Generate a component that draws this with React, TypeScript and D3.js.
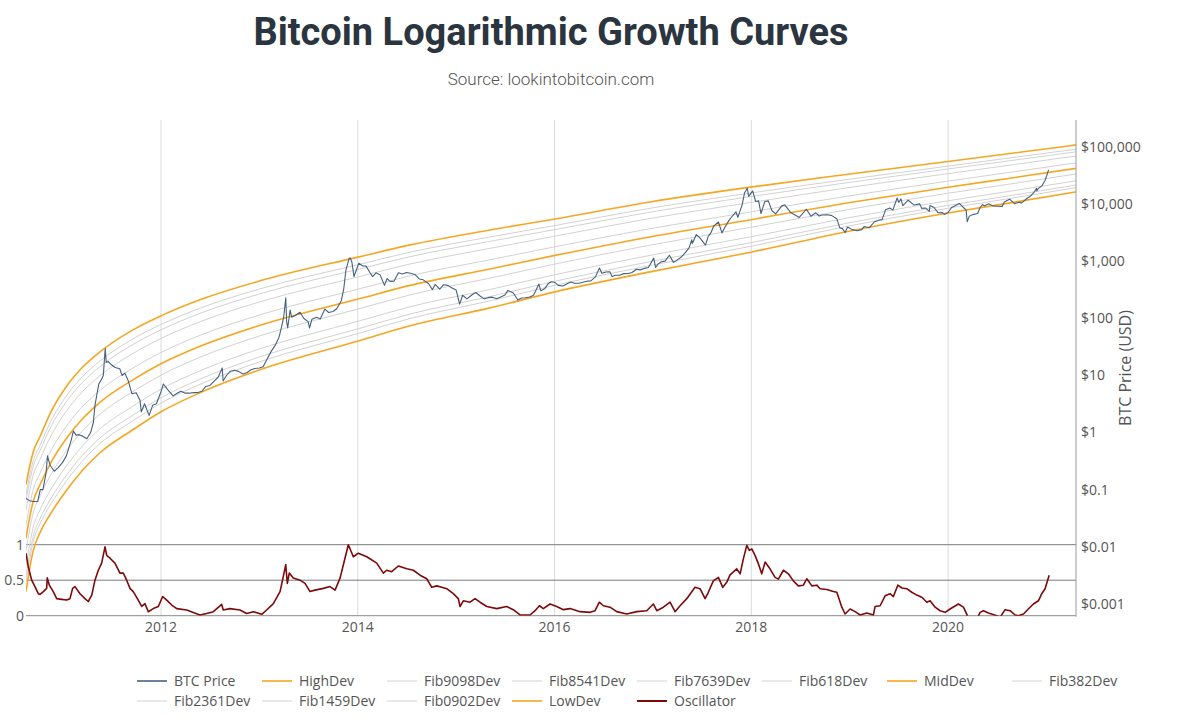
import React from "react";
import * as d3 from "d3";

const W = 1200;
const H = 715;

// ---------- tick data ----------
const yearTicks = [2012, 2014, 2016, 2018, 2020];
const priceTicks = [0.001, 0.01, 0.1, 1, 10, 100, 1000, 10000, 100000];
const priceTickLabels = ["$0.001", "$0.01", "$0.1", "$1", "$10", "$100", "$1,000", "$10,000", "$100,000"];
const oscTicks = [0, 0.5, 1];
const oscTickLabels = ["0", "0.5", "1"];

// ---------- growth curves (decimal year -> USD) ----------
const curveYears = [2010.628, 2010.669, 2010.699, 2010.77, 2010.872, 2011.044, 2011.207, 2011.38, 2011.715, 2012.0, 2012.396, 2013.006, 2014.013, 2014.531, 2015.344, 2016.005, 2016.971, 2018.008, 2019.004, 2020.0, 2020.63, 2021.301];
const highDev = [0.122, 0.273, 0.443, 0.843, 2.13, 6.6, 14.2, 26.0, 63, 111, 212, 456, 1200, 1945, 3560, 5550, 11000, 20200, 34000, 56400, 77900, 110000];
const lowDev = [0.00163, 0.00447, 0.00817, 0.0176, 0.0363, 0.0995, 0.223, 0.443, 1.12, 2.31, 4.98, 12.6, 40.5, 74.2, 153, 292, 655, 1465, 3420, 7070, 10600, 16500];
// Fibonacci fractions between LowDev (0) and HighDev (1), as named in the legend
const fibNames = ["Fib9098Dev", "Fib8541Dev", "Fib7639Dev", "Fib618Dev", "MidDev", "Fib382Dev", "Fib2361Dev", "Fib1459Dev", "Fib0902Dev"];
const fibLevels = [0.9098, 0.8541, 0.7639, 0.618, 0.5, 0.382, 0.2361, 0.1459, 0.0902];

// ---------- BTC price ----------
const btcPrice: [string, number][] = [
  ["2010-08-18", 0.07], ["2010-09-01", 0.064], ["2010-09-15", 0.062], ["2010-10-01", 0.062], ["2010-10-10", 0.1],
  ["2010-10-20", 0.1], ["2010-11-01", 0.2], ["2010-11-06", 0.39], ["2010-11-15", 0.27], ["2010-12-01", 0.21],
  ["2010-12-15", 0.24], ["2011-01-01", 0.3], ["2011-01-15", 0.39], ["2011-02-01", 0.71], ["2011-02-10", 1.06],
  ["2011-02-20", 0.9], ["2011-03-01", 0.92], ["2011-03-15", 0.87], ["2011-04-01", 0.78], ["2011-04-15", 1.0],
  ["2011-04-25", 1.5], ["2011-05-01", 3.0], ["2011-05-15", 7.0], ["2011-05-25", 8.5], ["2011-06-01", 10],
  ["2011-06-08", 29.6], ["2011-06-12", 17], ["2011-06-20", 17.5], ["2011-07-01", 15.4], ["2011-07-15", 13.8],
  ["2011-08-01", 13.1], ["2011-08-10", 10], ["2011-08-20", 11], ["2011-09-01", 8.2], ["2011-09-15", 4.8],
  ["2011-10-01", 5.0], ["2011-10-15", 3.7], ["2011-10-20", 2.3], ["2011-11-01", 3.2], ["2011-11-18", 2.0],
  ["2011-12-01", 3.0], ["2011-12-15", 3.2], ["2012-01-01", 5.2], ["2012-01-10", 7.1], ["2012-01-25", 5.7],
  ["2012-02-15", 4.4], ["2012-03-01", 4.9], ["2012-03-15", 5.3], ["2012-04-01", 4.9], ["2012-04-15", 4.9],
  ["2012-05-01", 5.0], ["2012-05-15", 5.0], ["2012-06-01", 5.3], ["2012-06-15", 6.4], ["2012-07-01", 6.7],
  ["2012-07-15", 7.8], ["2012-08-01", 9.4], ["2012-08-16", 13.5], ["2012-08-19", 8.0], ["2012-09-01", 10.1],
  ["2012-09-15", 11.9], ["2012-10-01", 12.4], ["2012-10-15", 11.8], ["2012-11-01", 10.6], ["2012-11-15", 11.2],
  ["2012-12-01", 12.6], ["2012-12-15", 13.3], ["2013-01-01", 13.5], ["2013-01-15", 14.2], ["2013-02-01", 20.4],
  ["2013-02-15", 27], ["2013-03-01", 34], ["2013-03-15", 47], ["2013-03-25", 73], ["2013-04-01", 104],
  ["2013-04-09", 230], ["2013-04-12", 90], ["2013-04-16", 68], ["2013-04-25", 140], ["2013-05-01", 105],
  ["2013-05-15", 114], ["2013-06-01", 128], ["2013-06-15", 100], ["2013-07-01", 88], ["2013-07-06", 68],
  ["2013-07-15", 97], ["2013-08-01", 105], ["2013-08-15", 98], ["2013-09-01", 146], ["2013-09-15", 127],
  ["2013-10-01", 132], ["2013-10-15", 148], ["2013-11-01", 205], ["2013-11-10", 330], ["2013-11-18", 700],
  ["2013-11-30", 1130], ["2013-12-04", 1150], ["2013-12-10", 980], ["2013-12-18", 540], ["2013-12-25", 670],
  ["2014-01-05", 930], ["2014-01-20", 830], ["2014-02-01", 825], ["2014-02-15", 640], ["2014-02-25", 540],
  ["2014-03-10", 630], ["2014-03-25", 580], ["2014-04-10", 380], ["2014-04-20", 500], ["2014-05-01", 445],
  ["2014-05-15", 450], ["2014-06-01", 630], ["2014-06-15", 600], ["2014-07-01", 640], ["2014-07-15", 620],
  ["2014-08-01", 590], ["2014-08-18", 490], ["2014-09-01", 475], ["2014-09-20", 410], ["2014-10-05", 320],
  ["2014-10-15", 395], ["2014-11-01", 325], ["2014-11-15", 390], ["2014-12-01", 380], ["2014-12-15", 345],
  ["2015-01-01", 315], ["2015-01-14", 178], ["2015-01-25", 255], ["2015-02-10", 220], ["2015-03-01", 260],
  ["2015-03-15", 285], ["2015-04-01", 245], ["2015-04-15", 220], ["2015-05-01", 232], ["2015-05-15", 236],
  ["2015-06-01", 222], ["2015-06-15", 237], ["2015-07-01", 258], ["2015-07-12", 310], ["2015-08-01", 280],
  ["2015-08-18", 210], ["2015-09-01", 228], ["2015-09-15", 230], ["2015-10-01", 238], ["2015-10-15", 255],
  ["2015-11-04", 400], ["2015-11-11", 305], ["2015-11-25", 330], ["2015-12-10", 415], ["2015-12-20", 440],
  ["2016-01-01", 432], ["2016-01-15", 380], ["2016-02-01", 370], ["2016-02-15", 400], ["2016-03-01", 435],
  ["2016-03-15", 415], ["2016-04-01", 415], ["2016-04-15", 430], ["2016-05-01", 450], ["2016-05-15", 455],
  ["2016-06-01", 535], ["2016-06-16", 765], ["2016-06-25", 620], ["2016-07-10", 650], ["2016-07-25", 655],
  ["2016-08-02", 545], ["2016-08-15", 570], ["2016-09-01", 575], ["2016-09-15", 610], ["2016-10-01", 615],
  ["2016-10-15", 640], ["2016-11-01", 730], ["2016-11-15", 710], ["2016-12-01", 755], ["2016-12-15", 780],
  ["2017-01-04", 1140], ["2017-01-11", 780], ["2017-01-20", 895], ["2017-02-01", 985], ["2017-02-15", 1010],
  ["2017-03-03", 1280], ["2017-03-18", 960], ["2017-03-30", 1040], ["2017-04-15", 1180], ["2017-05-01", 1420],
  ["2017-05-15", 1730], ["2017-05-25", 2400], ["2017-05-27", 2050], ["2017-06-11", 2950], ["2017-06-25", 2550],
  ["2017-07-15", 1930], ["2017-07-25", 2750], ["2017-08-05", 3230], ["2017-08-15", 4200], ["2017-09-01", 4900],
  ["2017-09-14", 3150], ["2017-09-25", 3950], ["2017-10-12", 5400], ["2017-10-20", 6000], ["2017-11-05", 7400],
  ["2017-11-12", 5900], ["2017-11-28", 9800], ["2017-12-07", 16000], ["2017-12-17", 19200], ["2017-12-22", 13800],
  ["2018-01-06", 17200], ["2018-01-17", 11200], ["2018-01-28", 11500], ["2018-02-06", 6900], ["2018-02-20", 11200],
  ["2018-03-05", 11500], ["2018-03-18", 7800], ["2018-04-01", 6800], ["2018-04-24", 9400], ["2018-05-05", 9800],
  ["2018-05-28", 7100], ["2018-06-12", 6500], ["2018-06-28", 5900], ["2018-07-24", 8200], ["2018-08-10", 6200],
  ["2018-08-28", 7100], ["2018-09-10", 6250], ["2018-09-20", 6500], ["2018-10-10", 6550], ["2018-10-25", 6400],
  ["2018-11-14", 5600], ["2018-11-25", 3900], ["2018-12-05", 3750], ["2018-12-15", 3200], ["2018-12-24", 4000],
  ["2019-01-10", 3600], ["2019-01-28", 3450], ["2019-02-15", 3600], ["2019-02-24", 4100], ["2019-03-15", 3900],
  ["2019-04-02", 4900], ["2019-04-20", 5300], ["2019-05-01", 5400], ["2019-05-14", 8000], ["2019-05-30", 8600],
  ["2019-06-10", 7900], ["2019-06-26", 12900], ["2019-07-02", 10800], ["2019-07-10", 12500], ["2019-07-17", 9500],
  ["2019-08-06", 11800], ["2019-08-28", 9700], ["2019-09-18", 10200], ["2019-09-25", 8500], ["2019-10-10", 8600],
  ["2019-10-23", 7500], ["2019-10-26", 9500], ["2019-11-10", 8800], ["2019-11-25", 7100], ["2019-12-10", 7200],
  ["2019-12-18", 6650], ["2020-01-01", 7200], ["2020-01-14", 8800], ["2020-02-12", 10350], ["2020-02-28", 8700],
  ["2020-03-08", 8000], ["2020-03-12", 4950], ["2020-03-20", 6200], ["2020-04-01", 6600], ["2020-04-20", 6900],
  ["2020-04-29", 8800], ["2020-05-08", 9900], ["2020-05-15", 9400], ["2020-06-01", 10200], ["2020-06-15", 9400],
  ["2020-07-01", 9230], ["2020-07-20", 9200], ["2020-07-28", 11000], ["2020-08-17", 12300], ["2020-09-05", 10200],
  ["2020-09-20", 10900], ["2020-10-01", 10600], ["2020-10-21", 12800], ["2020-11-01", 13750], ["2020-11-15", 16000],
  ["2020-11-25", 19100], ["2020-11-26", 17150], ["2020-12-01", 18800], ["2020-12-16", 21300], ["2020-12-27", 26500],
  ["2021-01-02", 32000], ["2021-01-06", 36800], ["2021-01-09", 40200],
];

// ---------- Oscillator (decimal year, value) ----------
const oscYears = [
  2010.628, 2010.651, 2010.686, 2010.719, 2010.753, 2010.77, 2010.804, 2010.838, 2010.844, 2010.865, 2010.905, 2010.94, 2010.991,
  2011.041, 2011.075, 2011.102, 2011.126, 2011.177, 2011.227, 2011.261, 2011.296, 2011.329, 2011.363, 2011.397, 2011.431, 2011.448,
  2011.482, 2011.532, 2011.583, 2011.617, 2011.651, 2011.685, 2011.718, 2011.769, 2011.804, 2011.837, 2011.871, 2011.922, 2011.973,
  2012.017, 2012.058, 2012.109, 2012.16, 2012.261, 2012.396, 2012.465, 2012.532, 2012.617, 2012.633, 2012.701, 2012.803, 2012.871,
  2012.938, 2013.024, 2013.074, 2013.142, 2013.21, 2013.243, 2013.268, 2013.284, 2013.304, 2013.345, 2013.413, 2013.464, 2013.515,
  2013.565, 2013.65, 2013.718, 2013.769, 2013.82, 2013.87, 2013.904, 2013.955, 2014.006, 2014.091, 2014.193, 2014.26, 2014.294,
  2014.345, 2014.412, 2014.498, 2014.565, 2014.633, 2014.701, 2014.752, 2014.803, 2014.853, 2014.904, 2014.971, 2015.022, 2015.039,
  2015.073, 2015.141, 2015.192, 2015.243, 2015.311, 2015.413, 2015.514, 2015.581, 2015.649, 2015.751, 2015.802, 2015.846, 2015.886,
  2015.954, 2016.022, 2016.089, 2016.158, 2016.259, 2016.361, 2016.412, 2016.455, 2016.496, 2016.564, 2016.632, 2016.734, 2016.836,
  2016.937, 2017.004, 2017.039, 2017.106, 2017.174, 2017.225, 2017.276, 2017.344, 2017.428, 2017.479, 2017.53, 2017.563, 2017.614,
  2017.665, 2017.71, 2017.75, 2017.784, 2017.852, 2017.886, 2017.919, 2017.954, 2017.98, 2018.005, 2018.038, 2018.072, 2018.106,
  2018.14, 2018.19, 2018.241, 2018.275, 2018.326, 2018.377, 2018.427, 2018.478, 2018.529, 2018.564, 2018.615, 2018.665, 2018.699,
  2018.767, 2018.834, 2018.869, 2018.92, 2018.953, 2019.004, 2019.055, 2019.106, 2019.174, 2019.241, 2019.258, 2019.309, 2019.36,
  2019.41, 2019.444, 2019.489, 2019.53, 2019.58, 2019.631, 2019.682, 2019.733, 2019.784, 2019.817, 2019.868, 2019.919, 2019.97,
  2020.02, 2020.105, 2020.156, 2020.196, 2020.21, 2020.26, 2020.3, 2020.325, 2020.359, 2020.41, 2020.495, 2020.529, 2020.58,
  2020.63, 2020.681, 2020.715, 2020.766, 2020.816, 2020.867, 2020.918, 2020.952, 2020.986, 2021.027,
];
const oscValues = [
  0.88, 0.69, 0.5, 0.41, 0.31, 0.3, 0.34, 0.385, 0.535, 0.43, 0.34, 0.24, 0.23,
  0.22, 0.24, 0.385, 0.41, 0.31, 0.24, 0.2, 0.29, 0.5, 0.64, 0.74, 0.97, 0.85,
  0.81, 0.74, 0.6, 0.6, 0.5, 0.385, 0.34, 0.22, 0.13, 0.17, 0.056, 0.1, 0.13,
  0.27, 0.22, 0.15, 0.1, 0.08, 0.01, 0.03, 0.056, 0.16, 0.08, 0.1, 0.08, 0.03,
  0.056, 0.02, 0.08, 0.17, 0.34, 0.55, 0.72, 0.455, 0.6, 0.53, 0.5, 0.455, 0.34,
  0.36, 0.385, 0.41, 0.36, 0.53, 0.81, 1.0, 0.83, 0.88, 0.83, 0.74, 0.6, 0.64,
  0.62, 0.7, 0.66, 0.64, 0.57, 0.52, 0.4, 0.42, 0.4, 0.38, 0.31, 0.24, 0.13,
  0.21, 0.19, 0.24, 0.19, 0.13, 0.1, 0.13, 0.085, 0.01, 0.01, 0.07, 0.14, 0.1,
  0.165, 0.13, 0.085, 0.1, 0.057, 0.047, 0.07, 0.19, 0.14, 0.12, 0.057, 0.024, 0.057,
  0.07, 0.165, 0.07, 0.12, 0.19, 0.057, 0.14, 0.24, 0.4, 0.38, 0.24, 0.33, 0.49,
  0.54, 0.4, 0.47, 0.575, 0.66, 0.59, 0.8, 0.99, 0.92, 0.94, 0.85, 0.73, 0.59,
  0.755, 0.66, 0.54, 0.515, 0.64, 0.59, 0.49, 0.42, 0.43, 0.52, 0.42, 0.43, 0.38,
  0.37, 0.34, 0.33, 0.12, 0.024, 0.094, 0.057, 0.01, 0.038, 0.01, 0.13, 0.14, 0.28,
  0.31, 0.27, 0.43, 0.39, 0.38, 0.33, 0.29, 0.26, 0.19, 0.21, 0.12, 0.07, 0.047,
  0.094, 0.165, 0.12, 0.0, -0.2, -0.1, -0.03, 0.047, 0.07, 0.038, 0.0, -0.02, 0.085,
  0.07, 0.01, 0.0, 0.024, 0.094, 0.165, 0.21, 0.31, 0.38, 0.57,
];

// ---------- legend ----------
const legendNames = ["BTC Price", "HighDev", "Fib9098Dev", "Fib8541Dev", "Fib7639Dev", "Fib618Dev", "MidDev", "Fib382Dev",
  "Fib2361Dev", "Fib1459Dev", "Fib0902Dev", "LowDev", "Oscillator"];

const C_BTC = "#46617f";
const C_ORANGE = "#f5a623";
const C_FIB = "#d2d2d2";
const C_OSC = "#7d0a0a";
const C_TEXT = "#555";

const colorFor = (name: string) => {
  if (name === "BTC Price") return C_BTC;
  if (name === "HighDev" || name === "MidDev" || name === "LowDev") return C_ORANGE;
  if (name === "Oscillator") return C_OSC;
  return C_FIB;
};

const parse = d3.utcParse("%Y-%m-%d");
const toYear = (s: string) => {
  const d = parse(s) as Date;
  const y = d.getUTCFullYear();
  const a = Date.UTC(y, 0, 1);
  const b = Date.UTC(y + 1, 0, 1);
  return y + (d.getTime() - a) / (b - a);
};

export default function App() {
  const left = 26, right = 1076, top = 120, bottom = 615.7;
  const x = d3.scaleLinear().domain([2010.628, 2021.3]).range([left, right]);
  const y = d3.scaleLog().domain([Math.pow(10, -3.21), Math.pow(10, 5.478)]).range([bottom, top]);
  const yo = d3.scaleLinear().domain([0, 1]).range([bottom, 544.7]);

  const curveLine = d3.line<[number, number]>()
    .x((d) => x(d[0]))
    .y((d) => y(d[1]))
    .curve(d3.curveMonotoneX);

  const highPts: [number, number][] = curveYears.map((t, i) => [t, highDev[i]]);
  const lowPts: [number, number][] = curveYears.map((t, i) => [t, lowDev[i]]);
  const fibCurves = fibLevels.map((f, k) => ({
    name: fibNames[k],
    pts: curveYears.map((t, i) => {
      const lh = Math.log10(highDev[i]);
      const ll = Math.log10(lowDev[i]);
      return [t, Math.pow(10, ll + f * (lh - ll))] as [number, number];
    }),
  }));

  const priceLine = d3.line<[string, number]>()
    .x((d) => x(toYear(d[0])))
    .y((d) => y(d[1]));

  const oscLine = d3.line<number>()
    .x((_, i) => x(oscYears[i]))
    .y((v) => yo(v));

  const legendX0 = 137, legendDX = 125, legendY0 = 681, legendDY = 20;

  return (
    <svg width={W} height={H} style={{ position: "absolute", left: 0, top: 0, display: "block", background: "#fff" }}
      fontFamily="'Open Sans', sans-serif">
      <defs>
        <clipPath id="plotClip">
          <rect x={left} y={top} width={right - left} height={bottom - top} />
        </clipPath>
      </defs>

      {/* Title */}
      <text x={551} y={45} textAnchor="middle" fontFamily="Roboto, sans-serif" fontWeight={700} fontSize={38} fill="#2b3540">
        Bitcoin Logarithmic Growth Curves
      </text>
      <text x={551} y={85} textAnchor="middle" fontFamily="Roboto, sans-serif" fontWeight={300} fontSize={17} fill="#555">
        Source: lookintobitcoin.com
      </text>

      {/* vertical grid */}
      {yearTicks.map((t) => (
        <line key={t} x1={x(t)} x2={x(t)} y1={top} y2={bottom} stroke="#dcdcdc" strokeWidth={1} />
      ))}

      {/* oscillator grid */}
      {oscTicks.map((v) => (
        <line key={v} x1={left} x2={right} y1={yo(v)} y2={yo(v)} stroke={v === 0 ? "#8a8a8a" : "#7a7a7a"} strokeWidth={1} />
      ))}

      <g clipPath="url(#plotClip)">
        {fibCurves.filter((c) => c.name !== "MidDev").map((c) => (
          <path key={c.name} d={curveLine(c.pts) || ""} fill="none" stroke={C_FIB} strokeWidth={1} />
        ))}
        {fibCurves.filter((c) => c.name === "MidDev").map((c) => (
          <path key={c.name} d={curveLine(c.pts) || ""} fill="none" stroke={C_ORANGE} strokeWidth={1.6} />
        ))}
        <path d={curveLine(highPts) || ""} fill="none" stroke={C_ORANGE} strokeWidth={1.6} />
        <path d={curveLine(lowPts) || ""} fill="none" stroke={C_ORANGE} strokeWidth={1.6} />
        <path d={priceLine(btcPrice) || ""} fill="none" stroke={C_BTC} strokeWidth={1.1} strokeLinejoin="round" />
        <path d={oscLine(oscValues) || ""} fill="none" stroke={C_OSC} strokeWidth={1.6} strokeLinejoin="round" />
      </g>

      {/* right axis line */}
      <line x1={right} x2={right} y1={top} y2={bottom + 1} stroke="#9a9a9a" strokeWidth={1} />

      {/* right tick labels */}
      {priceTicks.map((p, i) => (
        <text key={p} x={1081} y={y(p)} dy="0.35em" fontSize={14} fill={C_TEXT}>{priceTickLabels[i]}</text>
      ))}
      <text transform={`translate(1131,368) rotate(-90)`} textAnchor="middle" fontSize={16} fill={C_TEXT}>BTC Price (USD)</text>

      {/* oscillator tick labels */}
      {oscTicks.map((v, i) => (
        <text key={v} x={24} y={yo(v)} dy="0.35em" textAnchor="end" fontSize={14} fill={C_TEXT}>{oscTickLabels[i]}</text>
      ))}

      {/* x tick labels */}
      {yearTicks.map((t) => (
        <text key={t} x={x(t)} y={632} textAnchor="middle" fontSize={14} fill={C_TEXT}>{t}</text>
      ))}

      {/* legend */}
      {legendNames.map((n, i) => {
        const col = i % 8;
        const row = Math.floor(i / 8);
        const lx = legendX0 + col * legendDX;
        const ly = legendY0 + row * legendDY;
        return (
          <g key={n}>
            <line x1={lx} x2={lx + 30} y1={ly} y2={ly} stroke={colorFor(n)} strokeWidth={n === "Oscillator" ? 2 : n.startsWith("Fib") ? 1 : 1.6} />
            <text x={lx + 37} y={ly} dy="0.35em" fontSize={14} fill={C_TEXT}>{n}</text>
          </g>
        );
      })}
    </svg>
  );
}
